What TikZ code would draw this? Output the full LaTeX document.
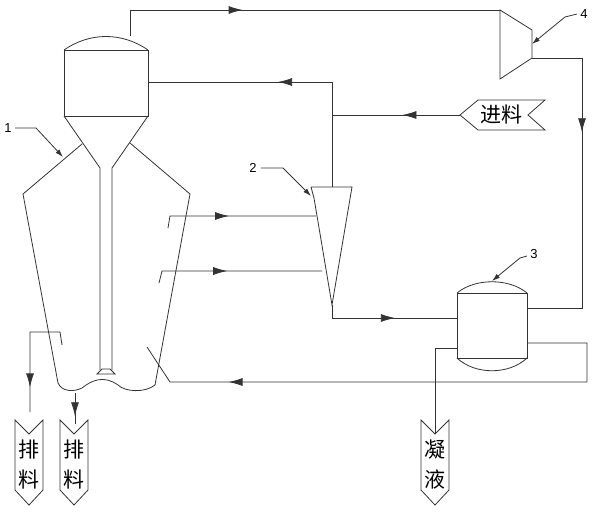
\documentclass[tikz,border=0pt]{standalone}
\usepackage{fontspec}
\setmainfont{Liberation Sans}
\newfontfamily\cjk{Noto Sans CJK SC}
\usetikzlibrary{arrows.meta,decorations.markings}
\begin{document}
\begin{tikzpicture}[x=1pt,y=-1pt,line width=0.8pt,
  ln/.style={draw=black!80},
  midarr/.style={postaction={decorate},decoration={markings,mark=at position #1 with {\arrow{Latex[length=14pt,width=8pt]}}}},
  lbl/.style={font=\fontsize{13}{13}\selectfont,inner sep=1pt},
  tagtxt/.style={font=\cjk\fontsize{21}{30}\selectfont,inner sep=0pt,align=center},
  lead/.style={-{Latex[length=8pt,width=5pt]}}]
\useasboundingbox (0,0) rectangle (600,514);
% ---- dryer 1
\draw[ln] (64,50) .. controls (90,32) and (122,32) .. (148,50);
\draw[ln] (64,50) rectangle (148,116);
\draw[ln] (64,116) -- (100,168) -- (100,370);
\draw[ln] (148,116) -- (112,168) -- (112,370);
\draw[ln] (97,374) -- (102,369) -- (110,369) -- (115,374) -- cycle;
\draw[ln] (82,144) -- (23,194) -- (58,383) .. controls (62,392) and (74,392) .. (82,388)
  .. controls (92,380) and (104,375) .. (118,385) .. controls (125,392) and (145,393) .. (155,385)
  -- (190,194) -- (130,143);
% ---- compressor 4
\draw[ln] (500,10) -- (532,30) -- (532,58) -- (500,79) -- cycle;
% ---- cyclone 2
\draw[ln] (311,187) -- (352,187) -- (332,305) -- (314,198) -- (311,187);
% ---- tank 3
\draw[ln] (457,293) .. controls (475,278) and (509,278) .. (527,293);
\draw[ln] (457,293) rectangle (527,358);
\draw[ln] (457,358) .. controls (475,375) and (509,375) .. (527,358);
% ---- tags
\coordinate (fd) at (460,115);
\draw[ln] (fd) -- (478,100) -- (545,100) -- (528,115) -- (545,130) -- (478,130) -- cycle;
\node[tagtxt] (feed) at (501,115) {进料};
\foreach \cx/\nm/\tx/\ty in {29/t1/排/料,74/t2/排/料,435/t3/凝/液}{
  \draw[ln] (\cx-14,420) -- (\cx,434) -- (\cx+14,420) -- (\cx+14,490) -- (\cx,505) -- (\cx-14,490) -- cycle;
  \node[tagtxt] (\nm) at (\cx,465) {\tx\\\ty};
}
% ---- connectors
\coordinate (d1top) at (130,36);
\draw[ln,midarr=0.35] (d1top) -- (130,10) -- (500,10);
\draw[ln,midarr=0.35] (532,58) -- (582,58) -- (582,308) -- (527,308);
\draw[ln,midarr=0.55] (332,187) -- (332,82) -- (148,82);
\draw[ln,midarr=0.45] (fd) -- (332,115);
\draw[ln,midarr=0.45] (168,228) -- (170,216) -- (316,216);
\draw[ln,midarr=0.45] (159,283) -- (162,271) -- (322,271);
\draw[ln,midarr=0.55] (332,305) -- (332,318) -- (457,318);
\draw[ln,midarr=0.82] (527,343) -- (587,343) -- (587,382) -- (170,382) -- (147,347);
\draw[ln,midarr=0.8] (62,345) -- (60,332) -- (30,332) -- (30,412);
\draw[ln,midarr=0.75] (75,393) -- (75,424);
\draw[ln] (457,348) -- (435,348) -- (435,434);
% ---- labels
\node[lbl] (n1) at (8,128) {1};
\draw[ln,lead] (15,128) -- (36,128) -- (63,157);
\node[lbl] (n2) at (253,168) {2};
\draw[ln,lead] (261,168) -- (283,168) -- (311,196);
\node[lbl] (n3) at (534,254) {3};
\draw[ln,lead] (527,256) -- (520,258) -- (492,281);
\node[lbl] (n4) at (584,14) {4};
\draw[ln,lead] (577,14) -- (565,17) -- (532,44);
\end{tikzpicture}
\end{document}
